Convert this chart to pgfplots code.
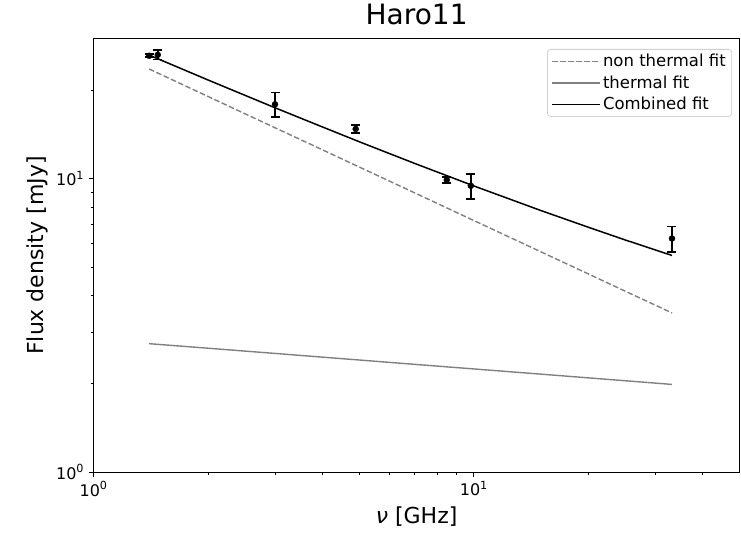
\documentclass[border=0pt]{standalone}
\usepackage{fontspec}
\setmainfont{DejaVu Sans}
\usepackage{pgfplots}
\pgfplotsset{compat=1.18}

% Measured radio fluxes of Haro 11 (GHz, mJy, error)
\pgfplotstableread{
nu    S      err
1.40  26.3   0.30
1.475 26.5   0.95
3.00  17.96  1.75
4.89  14.8   0.45
8.49  9.92   0.25
9.82  9.47   0.93
33.2  6.26   0.62
}\fluxdata

% Power-law fit components evaluated along the frequency range
\pgfplotstableread{
nu    nonthermal thermal combined
1.4   23.70  2.740  26.44
2     19.10  2.644  21.74
3     14.94  2.538  17.48
4     12.56  2.465  15.03
5     10.97  2.410  13.38
7     8.95   2.329  11.28
10    7.21   2.247  9.46
15    5.64   2.157  7.80
20    4.74   2.095  6.84
25    4.14   2.048  6.19
33.2  3.49   1.990  5.48
}\fitdata

\begin{document}
\begin{tikzpicture}
\begin{axis}[
  scale only axis,
  width=646bp, height=433bp,
  xmode=log, ymode=log,
  xmin=1, xmax=50, ymin=1, ymax=30,
  axis line style={line width=1bp, black},
  tick align=outside,
  tick style={black, line width=0.9bp},
  major tick length=5bp,
  minor tick length=3bp,
  xtick={1,10}, ytick={1,10},
  xticklabels={10\textsuperscript{0},10\textsuperscript{1}},
  yticklabels={10\textsuperscript{0},10\textsuperscript{1}},
  minor xtick={2,3,4,5,6,7,8,9,20,30,40},
  minor ytick={2,3,4,5,6,7,8,9,20},
  xtick pos=bottom, ytick pos=left,
  ticklabel style={font=\fontsize{16bp}{19bp}\selectfont},
  xticklabel style={yshift=-1bp},
  yticklabel style={xshift=-1bp},
  title={Haro11},
  title style={font=\fontsize{28bp}{32bp}\selectfont, at={(0.5,1)}, anchor=base, yshift=9bp},
  xlabel={\textit{ν} [GHz]},
  ylabel={Flux density [mJy]},
  label style={font=\fontsize{22bp}{26bp}\selectfont},
  xlabel style={at={(0.5,0)}, anchor=base, yshift=-51bp},
  % the y label is already turned by 90 degrees, so its yshift points left
  ylabel style={at={(0,0.5)}, anchor=base, yshift=50bp},
  legend style={
    at={(1,1)}, anchor=north east, xshift=-7.5bp, yshift=-10bp,
    draw=black!18, rounded corners=3bp, line width=0.8bp,
    font=\fontsize{16.5bp}{19bp}\selectfont,
    inner xsep=4bp, inner ysep=3bp,
    row sep=3.5bp,
  },
  legend cell align=left,
  legend image code/.code={
    \draw[#1] (0bp,0bp) -- (34bp,0bp);
    \path (0bp,0bp) -- (48bp,0bp);
  },
  clip=false,
]
\addplot[gray, dashed, line width=1.4bp, dash pattern=on 5.5bp off 2.5bp]
  table[x=nu, y=nonthermal] {\fitdata};
\addlegendentry{non thermal fit}
\addplot[gray, line width=1.4bp] table[x=nu, y=thermal] {\fitdata};
\addlegendentry{thermal fit}
\addplot[black, line width=1.5bp] table[x=nu, y=combined] {\fitdata};
\addlegendentry{Combined fit}

\addplot[only marks, black, mark=*, mark size=3bp,
  error bars/.cd, y dir=both, y explicit,
  error bar style={line width=1.8bp, black},
  error mark options={rotate=90, mark size=4.5bp, line width=1.8bp, black}]
  table[x=nu, y=S, y error=err] {\fluxdata};
\end{axis}
\path ([shift={(-93.6bp,-62bp)}]current axis.south west)
  rectangle ([shift={(1.4bp,39bp)}]current axis.north east);
\end{tikzpicture}
\end{document}
